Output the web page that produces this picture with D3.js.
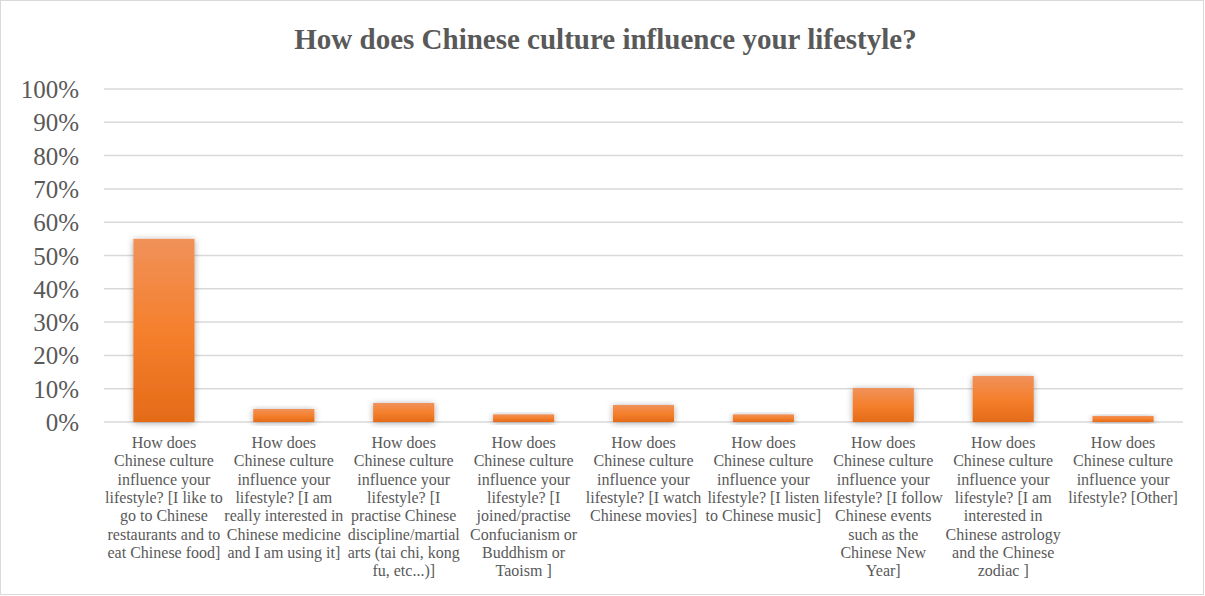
<!DOCTYPE html>
<html>
<head>
<meta charset="utf-8">
<script src="https://cdn.jsdelivr.net/npm/d3@7"></script>
<style>
  body { margin: 0; background: #fff; }
  svg text { font-family: "Liberation Serif", "Times New Roman", serif; fill: #595959; }
</style>
</head>
<body>
<svg id="chart"></svg>
<script>
// category labels, line breaks as in the original chart
const categories = [
  "How does\nChinese culture\ninfluence your\nlifestyle? [I like to\ngo to Chinese\nrestaurants and to\neat Chinese food]",
  "How does\nChinese culture\ninfluence your\nlifestyle? [I am\nreally interested in\nChinese medicine\nand I am using it]",
  "How does\nChinese culture\ninfluence your\nlifestyle? [I\npractise Chinese\ndiscipline/martial\narts (tai chi, kong\nfu, etc...)]",
  "How does\nChinese culture\ninfluence your\nlifestyle? [I\njoined/practise\nConfucianism or\nBuddhism or\nTaoism ]",
  "How does\nChinese culture\ninfluence your\nlifestyle? [I watch\nChinese movies]",
  "How does\nChinese culture\ninfluence your\nlifestyle? [I listen\nto Chinese music]",
  "How does\nChinese culture\ninfluence your\nlifestyle? [I follow\nChinese events\nsuch as the\nChinese New\nYear]",
  "How does\nChinese culture\ninfluence your\nlifestyle? [I am\ninterested in\nChinese astrology\nand the Chinese\nzodiac ]",
  "How does\nChinese culture\ninfluence your\nlifestyle? [Other]"
];
const values = [0.55, 0.039, 0.057, 0.023, 0.051, 0.023, 0.102, 0.138, 0.018];
const yTicks = [0, 0.1, 0.2, 0.3, 0.4, 0.5, 0.6, 0.7, 0.8, 0.9, 1];
const title = "How does Chinese culture influence your lifestyle?";

let width = 1205,
  height = 596,
  margin = { top: 89, right: 22, bottom: 174, left: 104 };

let svg = d3.select("#chart").attr("width", width).attr("height", height);

// outer frame
svg.append("rect")
  .attr("x", 0.5).attr("y", 0.5)
  .attr("width", width - 2).attr("height", height - 2)
  .attr("fill", "#fff").attr("stroke", "#d9d9d9");

let defs = svg.append("defs");
let grad = defs.append("linearGradient").attr("id", "barGrad")
  .attr("x1", 0).attr("y1", 0).attr("x2", 0).attr("y2", 1);
grad.append("stop").attr("offset", "0%").attr("stop-color", "#f0915a");
grad.append("stop").attr("offset", "50%").attr("stop-color", "#f5802d");
grad.append("stop").attr("offset", "100%").attr("stop-color", "#e46b18");

let shadow = defs.append("filter").attr("id", "shadow")
  .attr("x", "-30%").attr("y", "-30%").attr("width", "160%").attr("height", "160%");
shadow.append("feDropShadow")
  .attr("dx", 0).attr("dy", 1).attr("stdDeviation", 3)
  .attr("flood-color", "#000").attr("flood-opacity", 0.35);

let x = d3.scaleBand()
  .domain(categories)
  .range([margin.left, width - margin.right])
  .paddingInner(0.49)
  .paddingOuter(0.245);

let y = d3.scaleLinear()
  .domain([0, 1])
  .range([height - margin.bottom, margin.top]);

// title
svg.append("text")
  .attr("x", width / 2 + 3)
  .attr("y", 49)
  .attr("text-anchor", "middle")
  .attr("font-size", "29px")
  .attr("font-weight", "bold")
  .text(title);

// gridlines
svg.append("g")
  .selectAll("line")
  .data(yTicks)
  .enter()
  .append("line")
  .attr("x1", margin.left)
  .attr("x2", width - margin.right)
  .attr("y1", (d) => y(d))
  .attr("y2", (d) => y(d))
  .attr("stroke", "#d9d9d9")
  .attr("stroke-width", 1.5);

// y axis labels
let yAxis = svg.append("g")
  .attr("transform", "translate(" + (margin.left - 25) + ",0)")
  .call(d3.axisLeft(y).tickValues(yTicks).tickFormat(d3.format(".0%")).tickSize(0).tickPadding(0));
yAxis.select(".domain").remove();
yAxis.selectAll("text")
  .attr("font-size", "25px")
  .attr("dy", "0.34em");

// bars
svg.append("g")
  .selectAll("rect")
  .data(values)
  .enter()
  .append("rect")
  .attr("x", (d, i) => x(categories[i]))
  .attr("y", (d) => y(d))
  .attr("width", x.bandwidth())
  .attr("height", (d) => y(0) - y(d))
  .attr("fill", "url(#barGrad)")
  .attr("filter", "url(#shadow)");

// category labels
let labels = svg.append("g")
  .selectAll("text")
  .data(categories)
  .enter()
  .append("text")
  .attr("text-anchor", "middle")
  .attr("font-size", "16px")
  .attr("transform", (d) => "translate(" + (x(d) + x.bandwidth() / 2) + "," + 448 + ")");

labels.selectAll("tspan")
  .data((d) => d.split("\n"))
  .enter()
  .append("tspan")
  .attr("x", 0)
  .attr("y", (d, i) => i * 18.3)
  .text((d) => d);
</script>
</body>
</html>
